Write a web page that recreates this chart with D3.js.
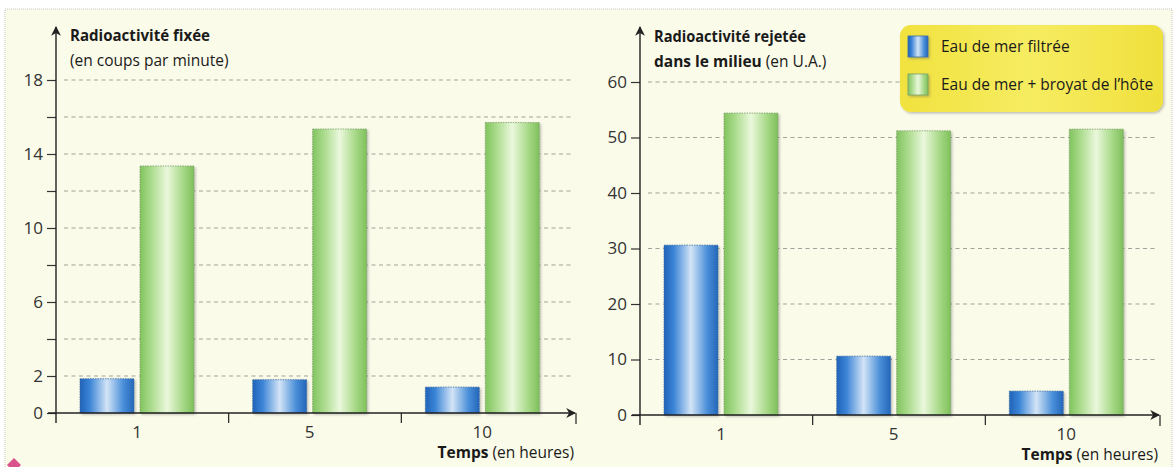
<!DOCTYPE html>
<html>
<head>
<meta charset="utf-8">
<script src="https://cdn.jsdelivr.net/npm/d3@7"></script>
<style>
  html, body { margin: 0; padding: 0; background: #ffffff; }
  svg { display: block; font-family: "Open Sans", "Noto Sans", sans-serif; }
</style>
</head>
<body>
<div class="charts"></div>
<script>
// data
const temps = ["1", "5", "10"];
const series = ["Eau de mer filtrée", "Eau de mer + broyat de l’hôte"];
const fixeeFiltree = [1.85, 1.8, 1.4];
const fixeeBroyat = [13.35, 15.35, 15.7];
const rejeteeFiltree = [30.6, 10.6, 4.3];
const rejeteeBroyat = [54.4, 51.2, 51.5];
const fixeeTicks = [0, 2, 4, 6, 8, 10, 12, 14, 16, 18];
const fixeeLabels = [0, 2, 6, 10, 14, 18];
const rejeteeTicks = [0, 10, 20, 30, 40, 50, 60];

var W = 1176, H = 467;
var svg = d3.select(".charts").append("svg")
  .attr("width", W).attr("height", H);

var defs = svg.append("defs");
function hGrad(id, stops) {
  var g = defs.append("linearGradient").attr("id", id)
    .attr("x1", "0%").attr("x2", "100%").attr("y1", "0%").attr("y2", "0%");
  stops.forEach(function(s) {
    g.append("stop").attr("offset", s[0]).attr("stop-color", s[1]);
  });
}
hGrad("gBlue", [["0%", "#2163b8"], ["18%", "#3a84d6"], ["50%", "#d3e4f6"], ["80%", "#4a8fd9"], ["100%", "#2466b9"]]);
hGrad("gGreen", [["0%", "#82c45f"], ["20%", "#a9da8a"], ["50%", "#eaf8dc"], ["80%", "#a6d886"], ["100%", "#7fc05b"]]);
hGrad("gLegend", [["0%", "#f1e23e"], ["50%", "#f6ec62"], ["100%", "#f0e03c"]]);

var shadow = defs.append("filter").attr("id", "shadow")
  .attr("x", "-20%").attr("y", "-20%").attr("width", "140%").attr("height", "140%");
shadow.append("feDropShadow").attr("dx", 1.5).attr("dy", 1.5)
  .attr("stdDeviation", 1.2).attr("flood-color", "#555").attr("flood-opacity", 0.35);

defs.append("marker").attr("id", "arrow")
  .attr("viewBox", "0 0 10 10").attr("refX", 9).attr("refY", 5)
  .attr("markerWidth", 7).attr("markerHeight", 7).attr("orient", "auto")
  .append("path").attr("d", "M0,0 L10,5 L0,10 L3,5 Z").attr("fill", "#222");

// page background
svg.append("rect").attr("x", 5).attr("y", 9).attr("width", 1167).attr("height", H)
  .attr("fill", "#fafbe9").attr("stroke", "#c9c9c0").attr("stroke-width", 1)
  .attr("stroke-dasharray", "1,1");
svg.append("path").attr("d", "M14,458 L21,465 L14,472 L7,465 Z").attr("fill", "#d9528c");

function drawPanel(o) {
  var g = svg.append("g");
  var y = d3.scaleLinear().domain(o.domain).range([o.baseY, o.topY]);
  var x = d3.scaleBand().domain(temps).range([o.axisX, o.endX]);
  var sub = d3.scaleBand().domain(series).range([24, 138]).paddingInner(0.1);

  // dashed grid
  g.selectAll(".grid").data(o.ticks.filter(function(d) { return d > 0; }))
    .enter().append("line").attr("class", "grid")
    .attr("x1", o.axisX + 8).attr("x2", o.endX)
    .attr("y1", function(d) { return y(d); }).attr("y2", function(d) { return y(d); })
    .attr("stroke", "#a3a39c").attr("stroke-width", 1).attr("stroke-dasharray", "4,3.5");

  // y axis ticks
  var yAxis = d3.axisLeft(y).tickValues(o.ticks).tickSize(9).tickPadding(4)
    .tickFormat(function(d) { return o.labels.indexOf(d) >= 0 ? d : ""; });
  var ya = g.append("g").attr("transform", "translate(" + o.axisX + ",0)").call(yAxis);
  ya.select(".domain").remove();
  ya.selectAll("line").attr("stroke", "#333").attr("stroke-width", 1.2);
  ya.selectAll("text").attr("font-size", 17).attr("fill", "#333")
    .attr("font-family", "Open Sans");

  // bars
  var rows = temps.map(function(t, i) { return { t: t, v: [o.a[i], o.b[i]] }; });
  var grp = g.selectAll(".grp").data(rows).enter().append("g")
    .attr("transform", function(d) { return "translate(" + x(d.t) + ",0)"; });
  grp.selectAll("rect").data(function(d) {
      return series.map(function(s, j) { return { s: s, v: d.v[j], j: j }; });
    })
    .enter().append("rect")
    .attr("x", function(d) { return sub(d.s); })
    .attr("width", sub.bandwidth())
    .attr("y", function(d) { return y(d.v); })
    .attr("height", function(d) { return o.baseY - y(d.v); })
    .attr("fill", function(d) { return d.j === 0 ? "url(#gBlue)" : "url(#gGreen)"; })
    .attr("stroke", function(d) { return d.j === 0 ? "#3d6fa8" : "#7aa068"; })
    .attr("stroke-width", 0.8).attr("stroke-dasharray", "1.5,1")
    .attr("filter", "url(#shadow)");

  // x labels, between the two bars
  grp.append("text")
    .attr("x", (sub(series[0]) + sub(series[1]) + sub.bandwidth()) / 2)
    .attr("y", o.baseY + 25).attr("text-anchor", "middle")
    .attr("font-size", 17).attr("fill", "#333")
    .text(function(d) { return d.t; });

  // separators on x axis
  g.selectAll(".sep").data(temps.slice(1)).enter().append("line")
    .attr("x1", function(d) { return x(d); }).attr("x2", function(d) { return x(d); })
    .attr("y1", o.baseY).attr("y2", o.baseY + 10)
    .attr("stroke", "#222").attr("stroke-width", 1.2);

  // axes lines
  g.append("line").attr("x1", o.axisX - 8).attr("x2", o.endX + 1)
    .attr("y1", o.baseY).attr("y2", o.baseY)
    .attr("stroke", "#222").attr("stroke-width", 1.4).attr("marker-end", "url(#arrow)");
  g.append("line").attr("x1", o.endX + 2).attr("x2", o.endX + 2)
    .attr("y1", o.baseY).attr("y2", o.baseY + 11)
    .attr("stroke", "#222").attr("stroke-width", 1.2);
  g.append("line").attr("x1", o.axisX).attr("x2", o.axisX)
    .attr("y1", o.baseY + 10).attr("y2", 27)
    .attr("stroke", "#222").attr("stroke-width", 1.4).attr("marker-end", "url(#arrow)");

  // titles
  var t1 = g.append("text").attr("x", o.axisX + 14).attr("y", o.t1y)
    .attr("font-size", 16).attr("fill", "#1a1a1a")
    .attr("font-weight", "bold").attr("textLength", o.t1len)
    .attr("lengthAdjust", "spacingAndGlyphs").text(o.title1);
  var t2 = g.append("text").attr("x", o.axisX + 14).attr("y", o.t2y)
    .attr("font-size", 15.5).attr("fill", "#1a1a1a");
  t2.append("tspan").attr("font-weight", "bold").text(o.title2b);
  t2.append("tspan").text(o.title2);

  var xt = g.append("text").attr("x", o.endX).attr("y", o.baseY + 45)
    .attr("text-anchor", "end").attr("font-size", 15.5).attr("fill", "#1a1a1a");
  xt.append("tspan").attr("font-weight", "bold").text("Temps");
  xt.append("tspan").text(" (en heures)");
}

drawPanel({
  axisX: 56, endX: 574, baseY: 413, topY: 80, domain: [0, 18],
  ticks: fixeeTicks, labels: fixeeLabels, a: fixeeFiltree, b: fixeeBroyat,
  title1: "Radioactivité fixée", t1len: 140, title2b: "", title2: "(en coups par minute)",
  t1y: 41, t2y: 66
});
drawPanel({
  axisX: 640, endX: 1158, baseY: 415, topY: 82, domain: [0, 60],
  ticks: rejeteeTicks, labels: rejeteeTicks, a: rejeteeFiltree, b: rejeteeBroyat,
  title1: "Radioactivité rejetée", t1len: 152, title2b: "dans le milieu", title2: " (en U.A.)",
  t1y: 42, t2y: 67
});

// legend
var leg = svg.append("g");
leg.append("rect").attr("x", 900).attr("y", 25).attr("width", 263).attr("height", 87)
  .attr("rx", 11).attr("fill", "url(#gLegend)").attr("filter", "url(#shadow)");
var li = leg.selectAll(".li").data(series).enter().append("g")
  .attr("transform", function(d, i) { return "translate(908," + (36 + i * 38) + ")"; });
li.append("rect").attr("width", 20).attr("height", 21)
  .attr("fill", function(d, i) { return i === 0 ? "url(#gBlue)" : "url(#gGreen)"; })
  .attr("stroke", function(d, i) { return i === 0 ? "#3d6fa8" : "#7aa068"; })
  .attr("stroke-width", 0.8).attr("filter", "url(#shadow)");
li.append("text").attr("x", 33).attr("y", 16)
  .attr("font-size", 15.5).attr("fill", "#1a1a1a").text(function(d) { return d; });
</script>
</body>
</html>
